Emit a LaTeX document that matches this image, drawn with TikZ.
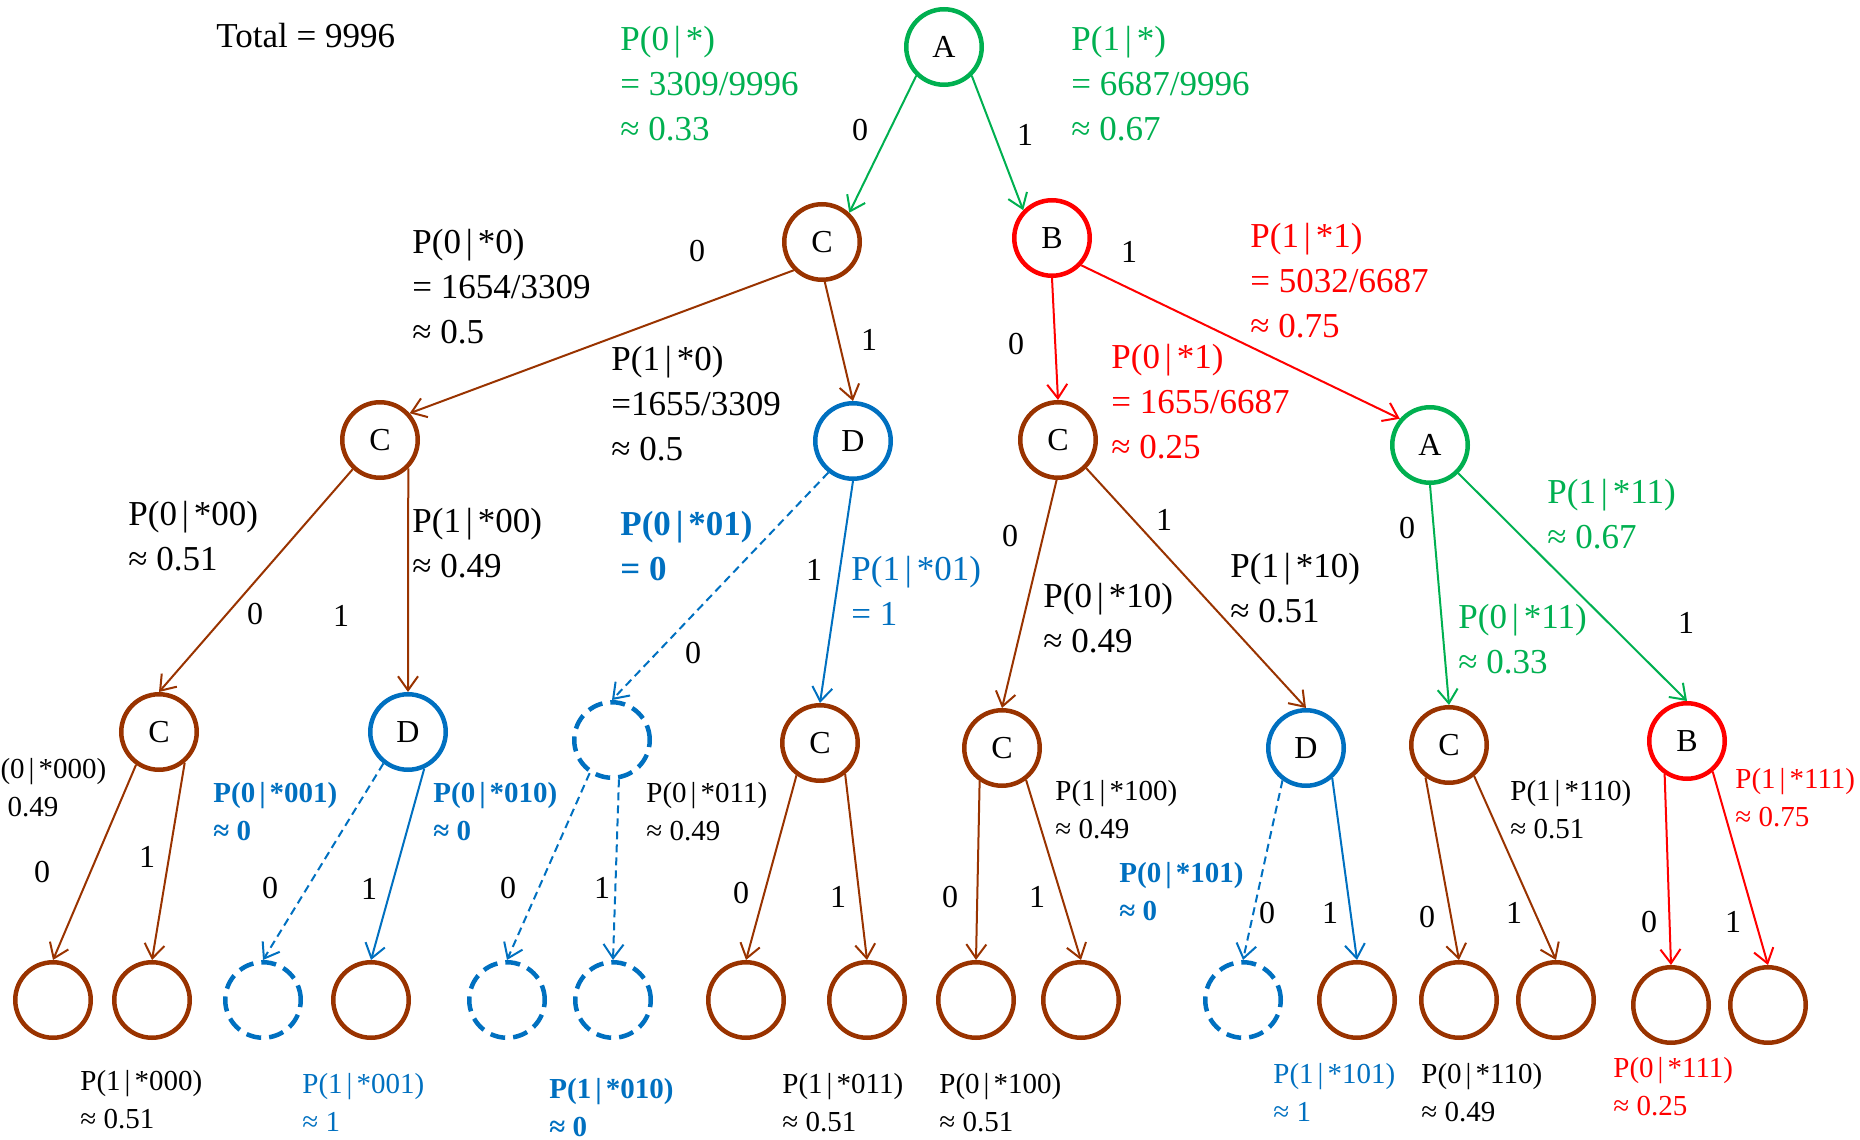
\documentclass[tikz,border=0pt]{standalone}
\usepackage{fontspec}
\setmainfont{Liberation Serif}
\usetikzlibrary{arrows.meta}

\definecolor{tgreen}{HTML}{00B050}
\definecolor{tbrown}{HTML}{993300}
\definecolor{tred}{HTML}{FF0000}
\definecolor{tblue}{HTML}{0070C0}

% left-aligned stack of lines whose baseline is the first line
\newcommand\stk[1]{\vtop{\halign{##\hfil\cr#1\crcr}}}
% conditional bar with a little room on both sides
\newcommand\cnd{\kern.14em|\kern.14em}

\tikzset{
  state/.style={circle, line width=2.25pt, minimum size=37.75pt, inner sep=0pt,
                font=\fontsize{16}{19}\selectfont},
  gst/.style={state, draw=tgreen},
  bst/.style={state, draw=tbrown},
  rst/.style={state, draw=tred},
  ust/.style={state, draw=tblue},
  xst/.style={state, draw=tblue, dash pattern=on 7.5pt off 4pt},
  conn/.style={line width=1pt, -{Straight Barb[length=7pt,width=10pt]}},
  gconn/.style={conn, tgreen},
  bconn/.style={conn, tbrown},
  rconn/.style={conn, tred},
  uconn/.style={conn, tblue},
  xconn/.style={conn, tblue, dash pattern=on 4pt off 2.5pt},
  lab/.style={anchor=base west, inner sep=0pt, font=\fontsize{17.5}{22.5}\selectfont},
  slab/.style={anchor=base west, inner sep=0pt, font=\fontsize{14.5}{19}\selectfont},
  bit/.style={inner sep=0pt, font=\fontsize{16}{19}\selectfont},
}

\begin{document}
\begin{tikzpicture}[x=0.5pt, y=-0.5pt]
\useasboundingbox (0,0) rectangle (1860,1140);

% ---------- states ----------
\node[gst] (A0) at (944,47) {A};
\node[bst] (C1) at (822,242) {C};
\node[rst] (B1) at (1052,238) {B};

\node[bst] (C2a) at (380,440) {C};
\node[ust] (D2)  at (853,441) {D};
\node[bst] (C2b) at (1058,440) {C};
\node[gst] (A2)  at (1430,445) {A};

\node[bst] (C3a) at (159,732) {C};
\node[ust] (D3a) at (408,732) {D};
\node[xst] (X3)  at (612,740) {};
\node[bst] (C3b) at (820,743) {C};
\node[bst] (C3c) at (1002,748) {C};
\node[ust] (D3b) at (1306,748) {D};
\node[bst] (C3d) at (1449,745) {C};
\node[rst] (B3)  at (1687,741) {B};

\node[bst] (L1)  at (53,1000) {};
\node[bst] (L2)  at (152,1000) {};
\node[xst] (L3)  at (263,1000) {};
\node[bst] (L4)  at (371,1000) {};
\node[xst] (L5)  at (507,1000) {};
\node[xst] (L6)  at (613,1000) {};
\node[bst] (L7)  at (746,1000) {};
\node[bst] (L8)  at (867,1000) {};
\node[bst] (L9)  at (976,1000) {};
\node[bst] (L10) at (1081,1000) {};
\node[xst] (L11) at (1243,1000) {};
\node[bst] (L12) at (1357,1000) {};
\node[bst] (L13) at (1459,1000) {};
\node[bst] (L14) at (1556,1000) {};
\node[bst] (L15) at (1671,1005) {};
\node[bst] (L16) at (1768,1005) {};

% ---------- transitions ----------
\draw[gconn] (A0.-134) -- (C1.47);
\draw[gconn] (A0.-46) -- (B1.136);

\draw[bconn] (C1.-135) -- (C2a.42);
\draw[bconn] (C1.-86) -- (D2.north);
\draw[rconn] (B1.south) -- (C2b.north);
\draw[rconn] (B1.-43) -- (A2.139);

\draw[bconn] (C2a.-133) -- (C3a.north);
\draw[bconn] (C2a.-45) -- (D3a.north);
\draw[xconn] (D2.-128) -- (X3.north);
\draw[uconn] (D2.south) -- (C3b.north);
\draw[bconn] (C2b.-92) -- (C3c.north);
\draw[bconn] (C2b.-45) -- (D3b.north);
\draw[gconn] (A2.south) -- (C3d.north);
\draw[gconn] (A2.-45) -- (B3.north);

\draw[bconn] (C3a.-125) -- (L1.north);
\draw[bconn] (C3a.-50) -- (L2.north);
\draw[xconn] (D3a.-128) -- (L3.north);
\draw[uconn] (D3a.-66) -- (L4.north);
\draw[xconn] (X3.-124) -- (L5.north);
\draw[xconn] (X3.-80) -- (L6.north);
\draw[bconn] (C3b.-126) -- (L7.north);
\draw[bconn] (C3b.-51) -- (L8.north);
\draw[bconn] (C3c.-124) -- (L9.north);
\draw[bconn] (C3c.-53) -- (L10.north);
\draw[xconn] (D3b.-126) -- (L11.north);
\draw[uconn] (D3b.-49) -- (L12.north);
\draw[bconn] (C3d.-126) -- (L13.north);
\draw[bconn] (C3d.-51) -- (L14.north);
\draw[rconn] (B3.-124) -- (L15.north);
\draw[rconn] (B3.-50) -- (L16.north);

% ---------- branch bits ----------
\node[bit] (b01) at (860,130) {0};
\node[bit] (b02) at (1025,135) {1};
\node[bit] (b11) at (697,251) {0};
\node[bit] (b12) at (869,340) {1};
\node[bit] (b13) at (1016,344) {0};
\node[bit] (b14) at (1129,252) {1};
\node[bit] (b21) at (255,614) {0};
\node[bit] (b22) at (341,616) {1};
\node[bit] (b23) at (693,653) {0};
\node[bit] (b24) at (814,570) {1};
\node[bit] (b25) at (1010,536) {0};
\node[bit] (b26) at (1164,520) {1};
\node[bit] (b27) at (1407,528) {0};
\node[bit] (b28) at (1686,623) {1};
\node[bit] (b31) at (42,872) {0};
\node[bit] (b32) at (147,857) {1};
\node[bit] (b33) at (270,888) {0};
\node[bit] (b34) at (369,889) {1};
\node[bit] (b35) at (508,888) {0};
\node[bit] (b36) at (602,888) {1};
\node[bit] (b37) at (741,893) {0};
\node[bit] (b38) at (838,897) {1};
\node[bit] (b39) at (950,897) {0};
\node[bit] (b310) at (1037,897) {1};
\node[bit] (b311) at (1267,913) {0};
\node[bit] (b312) at (1330,913) {1};
\node[bit] (b313) at (1427,917) {0};
\node[bit] (b314) at (1514,913) {1};
\node[bit] (b315) at (1649,922) {0};
\node[bit] (b316) at (1733,922) {1};

% ---------- probabilities ----------
\node[lab] (tot) at (216,47) {Total = 9996};

\node[lab, text=tgreen] (p0) at (620,50) {\stk{P(0\cnd*)\cr = 3309/9996\cr ≈ 0.33}};
\node[lab, text=tgreen] (p1) at (1071,50) {\stk{P(1\cnd*)\cr = 6687/9996\cr ≈ 0.67}};

\node[lab] (p00) at (412,253) {\stk{P(0\cnd*0)\cr = 1654/3309\cr ≈ 0.5}};
\node[lab] (p10) at (611,370) {\stk{P(1\cnd*0)\cr =1655/3309\cr ≈ 0.5}};
\node[lab, text=tred] (p11) at (1250,247) {\stk{P(1\cnd*1)\cr = 5032/6687\cr ≈ 0.75}};
\node[lab, text=tred] (p01) at (1111,368) {\stk{P(0\cnd*1)\cr = 1655/6687\cr ≈ 0.25}};

\node[lab] (p000) at (128,525) {\stk{P(0\cnd*00)\cr ≈ 0.51}};
\node[lab] (p100) at (412,532) {\stk{P(1\cnd*00)\cr ≈ 0.49}};
\node[lab, text=tblue, font=\fontsize{17.5}{22.5}\selectfont\bfseries] (p001) at (620,535) {\stk{P(0\cnd*01)\cr = 0}};
\node[lab, text=tblue] (p101) at (851,580) {\stk{P(1\cnd*01)\cr = 1}};
\node[lab] (p010) at (1043,607) {\stk{P(0\cnd*10)\cr ≈ 0.49}};
\node[lab] (p110) at (1230,577) {\stk{P(1\cnd*10)\cr ≈ 0.51}};
\node[lab, text=tgreen] (p111) at (1547,503) {\stk{P(1\cnd*11)\cr ≈ 0.67}};
\node[lab, text=tgreen] (p011) at (1458,628) {\stk{P(0\cnd*11)\cr ≈ 0.33}};

\node[slab] (p0000) at (-16,778) {\stk{P(0\cnd*000)\cr ≈ 0.49}};
\node[slab, text=tblue, font=\fontsize{14.5}{19}\selectfont\bfseries] (p0001) at (213,802) {\stk{P(0\cnd*001)\cr ≈ 0}};
\node[slab, text=tblue, font=\fontsize{14.5}{19}\selectfont\bfseries] (p0010) at (433,802) {\stk{P(0\cnd*010)\cr ≈ 0}};
\node[slab] (p0011) at (646,802) {\stk{P(0\cnd*011)\cr ≈ 0.49}};
\node[slab] (p1100) at (1055,800) {\stk{P(1\cnd*100)\cr ≈ 0.49}};
\node[slab, text=tblue, font=\fontsize{14.5}{19}\selectfont\bfseries] (p0101) at (1119,882) {\stk{P(0\cnd*101)\cr ≈ 0}};
\node[slab] (p1110) at (1510,800) {\stk{P(1\cnd*110)\cr ≈ 0.51}};
\node[slab, text=tred] (p1111) at (1735,788) {\stk{P(1\cnd*111)\cr ≈ 0.75}};

\node[slab] (p1000) at (80,1090) {\stk{P(1\cnd*000)\cr ≈ 0.51}};
\node[slab, text=tblue] (p1001) at (302,1093) {\stk{P(1\cnd*001)\cr ≈ 1}};
\node[slab, text=tblue, font=\fontsize{14.5}{19}\selectfont\bfseries] (p1010) at (549,1098) {\stk{P(1\cnd*010)\cr ≈ 0}};
\node[slab] (p1011) at (782,1093) {\stk{P(1\cnd*011)\cr ≈ 0.51}};
\node[slab] (p0100) at (939,1093) {\stk{P(0\cnd*100)\cr ≈ 0.51}};
\node[slab, text=tblue] (p1101) at (1273,1083) {\stk{P(1\cnd*101)\cr ≈ 1}};
\node[slab] (p0110) at (1421,1083) {\stk{P(0\cnd*110)\cr ≈ 0.49}};
\node[slab, text=tred] (p0111) at (1613,1077) {\stk{P(0\cnd*111)\cr ≈ 0.25}};
\end{tikzpicture}
\end{document}
